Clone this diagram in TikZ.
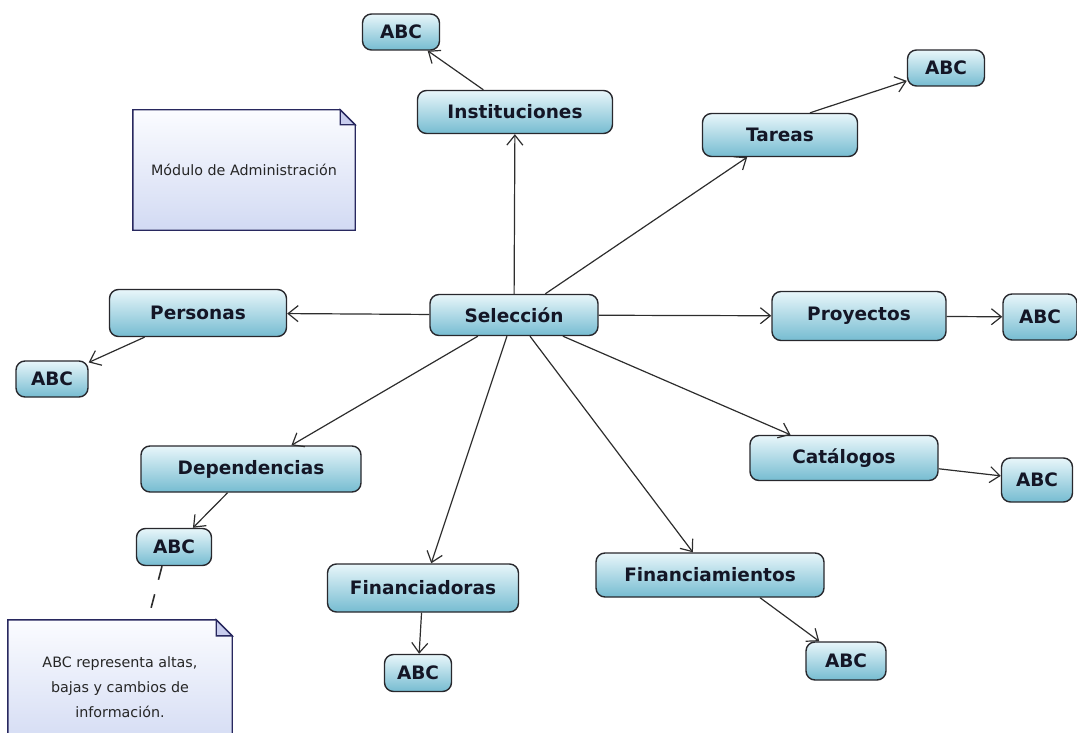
\documentclass[tikz,border=0pt]{standalone}
\usepackage{fontspec}
\setmainfont{DejaVu Sans}
\usetikzlibrary{arrows.meta,calc}

\definecolor{boxtop}{RGB}{232,246,250}
\definecolor{boxbot}{RGB}{118,188,209}
\definecolor{boxline}{RGB}{40,40,45}
\definecolor{boxtext}{RGB}{20,22,38}
\definecolor{notetop}{RGB}{251,252,255}
\definecolor{notebot}{RGB}{210,218,243}
\definecolor{noteline}{RGB}{40,40,95}
\definecolor{foldfill}{RGB}{200,205,238}
\definecolor{linkcol}{RGB}{45,45,45}

\tikzset{
  topic/.style={rectangle, rounded corners=9pt, draw=boxline, line width=1.4pt,
    top color=boxtop, bottom color=boxbot, text=boxtext, inner sep=0pt,
    font=\fontsize{18.5}{22}\selectfont\bfseries},
  notebox/.style={rectangle, inner sep=0pt, align=center, text=black!85,
    font=\fontsize{14.3}{25}\selectfont},
  notepaper/.style={draw=noteline, line width=1.4pt, top color=notetop, bottom color=notebot},
  link/.style={draw=linkcol, line width=1.2pt, -{Straight Barb[length=10pt,width=16pt]}},
  anchorline/.style={draw=linkcol, line width=1.6pt, dash pattern=on 14pt off 15pt}
}

% folded-corner note outline drawn around a named node
\newcommand{\dogear}[2]{%
  \path[notepaper] (#1.north west) -- ([xshift=-#2]#1.north east)
    -- ([yshift=-#2]#1.north east) -- (#1.south east) -- (#1.south west) -- cycle;
  \path[draw=noteline, line width=1.4pt, fill=foldfill]
    ([xshift=-#2]#1.north east) -- ([xshift=-#2,yshift=-#2]#1.north east)
    -- ([yshift=-#2]#1.north east) -- cycle;}

\begin{document}
\begin{tikzpicture}[x=1pt,y=-1pt]
\useasboundingbox (0,0) rectangle (1077,733);
\clip (0,0) rectangle (1077,733);

% notes
\node[notebox, minimum width=222, minimum height=120] (n1) at (244,170) {};
\dogear{n1}{15pt}
\node[notebox] at (n1.center) {Módulo de Administración};

\node[notebox, minimum width=224, minimum height=130] (n2) at (120,685) {};
\dogear{n2}{16pt}
\node[notebox] at ([yshift=-2pt]n2.center) {ABC representa altas,\\bajas y cambios de\\información.};

% topics
\node[topic, minimum width=168, minimum height=41] (sel)  at (514,315) {Selección};
\node[topic, minimum width=195, minimum height=43] (inst) at (515,112) {Instituciones};
\node[topic, minimum width=155, minimum height=43] (tar)  at (780,135) {Tareas};
\node[topic, minimum width=177, minimum height=47] (pers) at (198,313) {Personas};
\node[topic, minimum width=174, minimum height=49] (proy) at (859,316) {Proyectos};
\node[topic, minimum width=188, minimum height=45] (cat)  at (844,458) {Catálogos};
\node[topic, minimum width=220, minimum height=46] (dep)  at (251,469) {Dependencias};
\node[topic, minimum width=191, minimum height=48] (fin)  at (423,588) {Financiadoras};
\node[topic, minimum width=228, minimum height=44] (fmt)  at (710,575) {Financiamientos};

% ABC leaves
\node[topic, minimum width=77, minimum height=36] (abcinst) at (401,32)  {ABC};
\node[topic, minimum width=77, minimum height=36] (abctar)  at (946,68)  {ABC};
\node[topic, minimum width=72, minimum height=36] (abcpers) at (52,379)  {ABC};
\node[topic, minimum width=74, minimum height=46] (abcproy) at (1040,317) {ABC};
\node[topic, minimum width=71, minimum height=44] (abccat)  at (1037,480) {ABC};
\node[topic, minimum width=75, minimum height=37] (abcdep)  at (174,547) {ABC};
\node[topic, minimum width=67, minimum height=37] (abcfin)  at (418,673) {ABC};
\node[topic, minimum width=80, minimum height=38] (abcfmt)  at (846,661) {ABC};

% links from the centre
\draw[link] (sel) -- (inst);
\draw[link] (sel) -- (tar);
\draw[link] (sel) -- (pers);
\draw[link] (sel) -- (proy);
\draw[link] (sel) -- (cat);
\draw[link] (sel) -- (dep);
\draw[link] (sel) -- (fin);
\draw[link] (sel) -- (fmt);

% links to the ABC leaves
\draw[link] (inst) -- (abcinst);
\draw[link] ([xshift=30pt]tar.north) -- (abctar);
\draw[link] (pers) -- (abcpers);
\draw[link] (proy) -- (abcproy);
\draw[link] (cat) -- (abccat);
\draw[link] (dep) -- (abcdep);
\draw[link] (fin) -- (abcfin);
\draw[link] ([xshift=50pt]fmt.south) -- (abcfmt);

% note anchor
\draw[anchorline] ([xshift=-12pt]abcdep.south) -- ([xshift=28pt]n2.north);
\end{tikzpicture}
\end{document}
